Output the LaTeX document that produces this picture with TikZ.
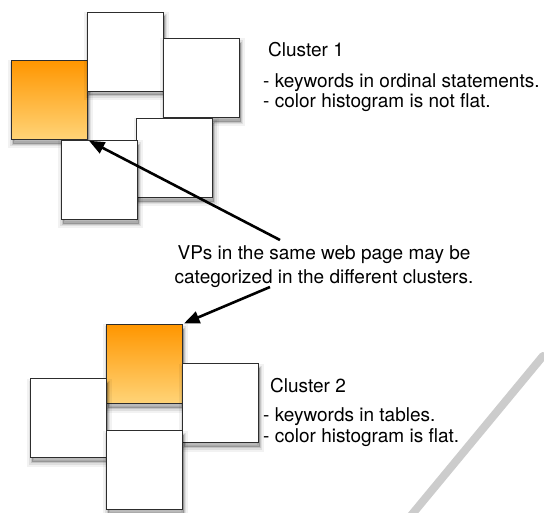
\documentclass[tikz,border=0pt]{standalone}
\usepackage{fontspec}
\setmainfont{TeX Gyre Heros}
\usetikzlibrary{arrows}
\definecolor{orangetop}{RGB}{255,150,0}
\definecolor{orangebot}{RGB}{255,212,120}
\definecolor{rand}{RGB}{45,45,45}

\begin{document}
\begin{tikzpicture}[>=triangle 45,x=1pt,y=-1pt,
	schatten/.style={
		preaction={fill=black,draw=black,fill opacity=0.05,draw opacity=0.05,line width=9pt,transform canvas={shift={(1.5pt,-4.5pt)}}},
		preaction={fill=black,draw=black,fill opacity=0.08,draw opacity=0.08,line width=5pt,transform canvas={shift={(1.5pt,-4.5pt)}}},
		preaction={fill=black,draw=black,fill opacity=0.12,draw opacity=0.12,line width=2pt,transform canvas={shift={(1.5pt,-4.5pt)}}}},
	box/.style={schatten,draw=rand,line width=0.9pt,minimum width=76pt,minimum height=79pt,inner sep=0pt,fill=white},
	vp/.style={box,top color=orangetop,bottom color=orangebot},
	txt/.style={font=\fontsize{19}{24}\selectfont,inner sep=0pt},
	pfeil/.style={->,line width=2.6pt,shorten >=2pt}]
				\useasboundingbox (0,0) rectangle (544,513);
				
				%Streifen
				\draw[line width=8pt,black!20,line cap=round] (543,356) -- (409,518);
				
				%Cluster 1
				\node[vp] (vp1) at (49,100) {};
				\foreach \n/\x/\y in
					{a/125/51.5,b/201/78,c/174.5/158,d/99/180}
						\node[box] (k1\n) at (\x,\y) {};
				\node[txt,anchor=base west] (c1) at (268,57) {Cluster 1};
				\node[txt,anchor=base west] (c1a) at (263,88) {- keywords in ordinal statements.};
				\node[txt,anchor=base west] (c1b) at (263,108) {- color histogram is not flat.};
				
				%Cluster 2
				\node[vp] (vp2) at (144,364) {};
				\foreach \n/\x/\y in
					{a/68/418,b/220/403,c/144/470}
						\node[box] (k2\n) at (\x,\y) {};
				\node[txt,anchor=base west] (c2) at (270,392) {Cluster 2};
				\node[txt,anchor=base west] (c2a) at (263,421) {- keywords in tables.};
				\node[txt,anchor=base west] (c2b) at (263,442) {- color histogram is flat.};
				
				%Hinweis mit Pfeilen
				\node[txt,align=center] (msg) at (324,266.5) {VPs in the same web page may be\\categorized in the different clusters.};
				\coordinate (s1) at (280,240);
				\coordinate (s2) at (270,287);
				\draw[pfeil] (s1) -- (vp1.south east);
				\draw[pfeil] (s2) -- (vp2.north east);
\end{tikzpicture}
\end{document}
